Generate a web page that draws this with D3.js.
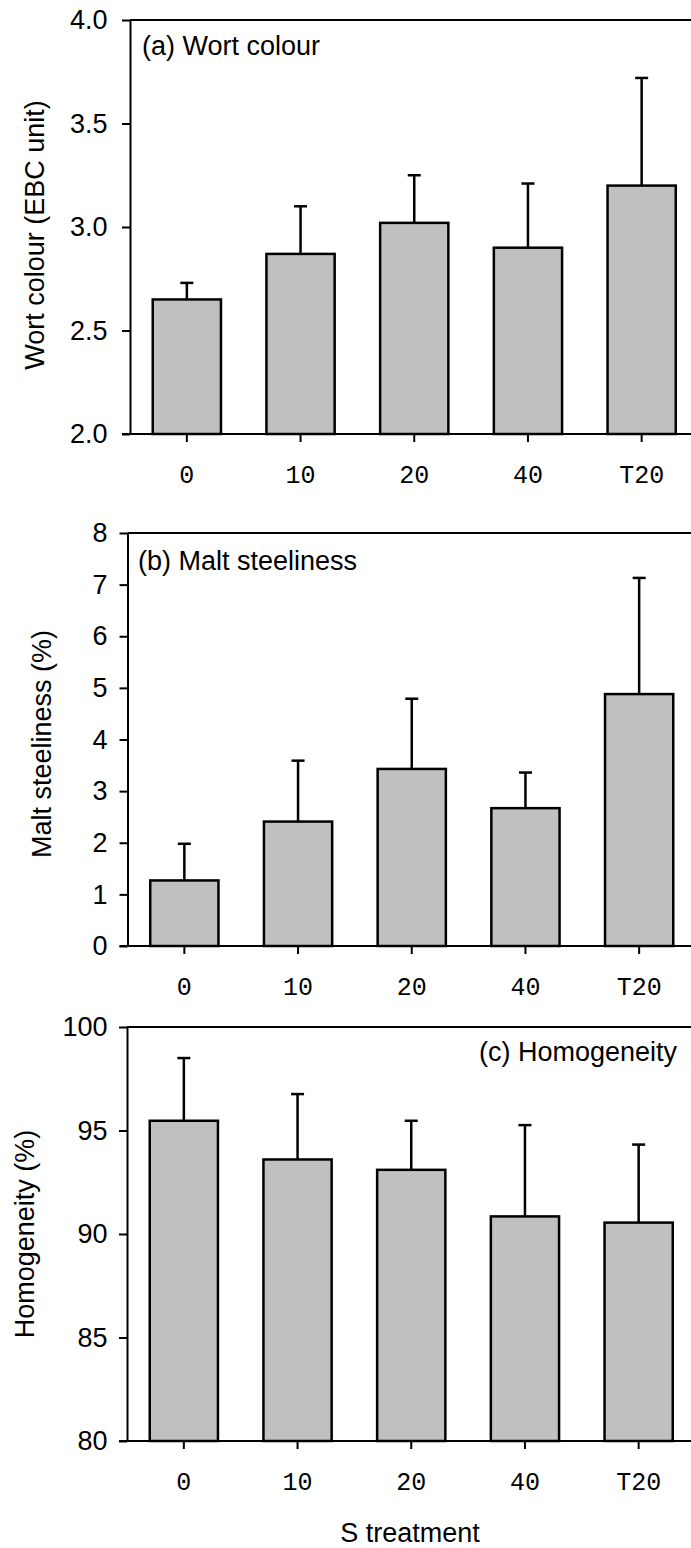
<!DOCTYPE html>
<html><head><meta charset="utf-8">
<script src="https://cdn.jsdelivr.net/npm/d3@7"></script>
<style>html,body{margin:0;padding:0;background:#fff;}svg{display:block;}</style>
</head><body>
<svg id="chart" width="691" height="1548"></svg>
<script>
const categories = ["0", "10", "20", "40", "T20"];
const colourMean = [2.65, 2.87, 3.02, 2.90, 3.20];
const colourErr  = [0.08, 0.23, 0.23, 0.31, 0.52];
const colourTicks = [2.0, 2.5, 3.0, 3.5, 4.0];
const steelMean = [1.27, 2.41, 3.43, 2.67, 4.88];
const steelErr  = [0.71, 1.18, 1.36, 0.69, 2.25];
const steelTicks = [0, 1, 2, 3, 4, 5, 6, 7, 8];
const homoMean = [95.47, 93.60, 93.10, 90.85, 90.55];
const homoErr  = [3.03, 3.16, 2.37, 4.41, 3.77];
const homoTicks = [80, 85, 90, 95, 100];

const panels = [
  {mean: colourMean, err: colourErr, ticks: colourTicks, domain: [2, 4], fmt: d3.format(".1f"),
   title: "Wort colour (EBC unit)", label: "(a) Wort colour", labelRight: false,
   left: 130, top: 20, bottom: 434, titleX: 35, titleY: 235, labelX: 142, labelY: 55},
  {mean: steelMean, err: steelErr, ticks: steelTicks, domain: [0, 8], fmt: d3.format("d"),
   title: "Malt steeliness (%)", label: "(b) Malt steeliness", labelRight: false,
   left: 127.5, top: 533, bottom: 946, titleX: 42, titleY: 744, labelX: 138, labelY: 570},
  {mean: homoMean, err: homoErr, ticks: homoTicks, domain: [80, 100], fmt: d3.format("d"),
   title: "Homogeneity (%)", label: "(c) Homogeneity", labelRight: true,
   left: 127, top: 1027, bottom: 1441, titleX: 25, titleY: 1234, labelX: 677, labelY: 1061}
];

const svg = d3.select("#chart");
const sans = "'Liberation Sans', Arial, sans-serif";
const mono = "'Liberation Mono', 'Courier New', monospace";
const step = 113.7;
const fs = 27;

panels.forEach(p => {
  const right = p.left + step * categories.length;
  const x = d3.scaleBand().domain(categories).range([p.left, right]).paddingInner(0.4).paddingOuter(0.2);
  const y = d3.scaleLinear().domain(p.domain).range([p.bottom, p.top]);
  const g = svg.append("g");

  // bars
  g.selectAll("rect.bar").data(categories).join("rect")
    .attr("x", d => x(d)).attr("width", x.bandwidth())
    .attr("y", (d, i) => y(p.mean[i])).attr("height", (d, i) => y(p.domain[0]) - y(p.mean[i]))
    .attr("fill", "#c0c0c0").attr("stroke", "#000").attr("stroke-width", 2.5);

  // error bars (upper only)
  const cx = d => x(d) + x.bandwidth() / 2;
  g.selectAll("line.err").data(categories).join("line")
    .attr("x1", cx).attr("x2", cx)
    .attr("y1", (d, i) => y(p.mean[i])).attr("y2", (d, i) => y(p.mean[i] + p.err[i]))
    .attr("stroke", "#000").attr("stroke-width", 2.5);
  g.selectAll("line.cap").data(categories).join("line")
    .attr("x1", d => cx(d) - 6.5).attr("x2", d => cx(d) + 6.5)
    .attr("y1", (d, i) => y(p.mean[i] + p.err[i])).attr("y2", (d, i) => y(p.mean[i] + p.err[i]))
    .attr("stroke", "#000").attr("stroke-width", 2.5);

  // top frame line
  g.append("line").attr("x1", p.left).attr("x2", right + 5).attr("y1", p.top).attr("y2", p.top)
    .attr("stroke", "#000").attr("stroke-width", 2);

  // y axis
  const ya = g.append("g").attr("transform", `translate(${p.left},0)`)
    .call(d3.axisLeft(y).tickValues(p.ticks).tickFormat(p.fmt).tickSize(8).tickSizeOuter(0)
      .tickPadding(p.left - 8 - 107.5));
  ya.select(".domain").attr("stroke-width", 2);
  ya.selectAll(".tick line").attr("stroke-width", 2);
  ya.selectAll("text").attr("font-family", sans).attr("font-size", fs).attr("fill", "#000");

  // x axis
  const xa = g.append("g").attr("transform", `translate(0,${p.bottom})`)
    .call(d3.axisBottom(x).tickSize(8).tickSizeOuter(0).tickPadding(23));
  xa.select(".domain").attr("stroke-width", 2).attr("d", `M${p.left - 8},0H${right + 5}`);
  xa.selectAll(".tick line").attr("stroke-width", 2);
  xa.selectAll("text").attr("font-family", mono).attr("font-size", 25).attr("fill", "#000");

  // y title
  g.append("text")
    .attr("transform", `translate(${p.titleX},${p.titleY}) rotate(-90)`)
    .attr("text-anchor", "middle").attr("dominant-baseline", "central")
    .attr("font-family", sans).attr("font-size", fs).text(p.title);

  // panel label
  g.append("text")
    .attr("x", p.labelX)
    .attr("y", p.labelY)
    .attr("text-anchor", p.labelRight ? "end" : "start")
    .attr("font-family", sans).attr("font-size", fs).text(p.label);
});

svg.append("text").attr("x", 410).attr("y", 1542).attr("text-anchor", "middle")
  .attr("font-family", sans).attr("font-size", fs).text("S treatment");
</script>
</body></html>
